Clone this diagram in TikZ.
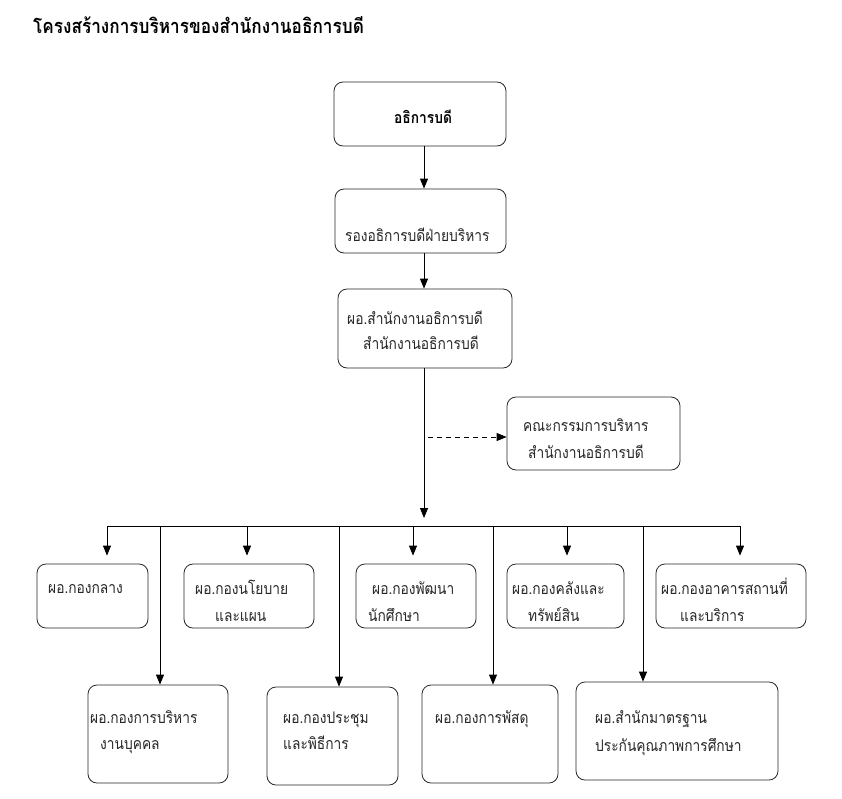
\documentclass[tikz,border=0pt]{standalone}
\usepackage{fontspec}
\newfontfamily\thaifont[Script=Thai,FakeStretch=0.86]{Loma}
\usetikzlibrary{arrows.meta}
\begin{document}
\begin{tikzpicture}[x=1pt,y=-1pt,
  box/.style={draw=black!85, line width=0.8pt, rounded corners=9pt, inner sep=0pt},
  txt/.style={font=\thaifont\fontsize{16}{18}\selectfont, inner sep=0pt, anchor=base west, text=black!85},
  ttl/.style={font=\thaifont\bfseries\fontsize{20}{22}\selectfont, inner sep=0pt, anchor=base west, text=black},
  arr/.style={line width=0.9pt, -{Triangle[length=10pt,width=8pt]}},
  ln/.style={line width=0.9pt}]
\useasboundingbox (0,0) rectangle (842,798);
% title
\node[ttl] (title) at (33,33) {โครงสร้างการบริหารของสำนักงานอธิการบดี};
% upper boxes
\node[box, minimum width=172pt, minimum height=64pt] (b1) at (420,114) {};
\node[box, minimum width=171pt, minimum height=64pt] (b2) at (420.5,221) {};
\node[box, minimum width=174pt, minimum height=79pt] (b3) at (425,328.5) {};
\node[box, minimum width=173pt, minimum height=73pt] (cm) at (593.5,433.5) {};
\node[ttl, font=\thaifont\bfseries\fontsize{16}{18}\selectfont] (b1t) at (394,123) {อธิการบดี};
\node[txt] (b2t) at (345,241) {รองอธิการบดีฝ่ายบริหาร};
\node[txt] (b3t1) at (347,324) {ผอ.สำนักงานอธิการบดี};
\node[txt] (b3t2) at (363,349) {สำนักงานอธิการบดี};
\node[txt] (cmt1) at (523,431) {คณะกรรมการบริหาร};
\node[txt] (cmt2) at (528,458) {สำนักงานอธิการบดี};
% top row boxes
\node[box, minimum width=111pt, minimum height=64pt] (t1) at (92.5,596) {};
\node[box, minimum width=130pt, minimum height=64pt] (t2) at (249,596) {};
\node[box, minimum width=120pt, minimum height=64pt] (t3) at (416,596) {};
\node[box, minimum width=117pt, minimum height=64pt] (t4) at (565.5,596) {};
\node[box, minimum width=150pt, minimum height=64pt] (t5) at (731,596) {};
\node[txt] (t1a) at (48,593) {ผอ.กองกลาง};
\node[txt] (t2a) at (195,594) {ผอ.กองนโยบาย};
\node[txt] (t2b) at (215,621) {และแผน};
\node[txt] (t3a) at (372,594) {ผอ.กองพัฒนา};
\node[txt] (t3b) at (368,621) {นักศึกษา};
\node[txt] (t4a) at (512,594) {ผอ.กองคลังและ};
\node[txt] (t4b) at (528,621) {ทรัพย์สิน};
\node[txt] (t5a) at (661,594) {ผอ.กองอาคารสถานที่};
\node[txt] (t5b) at (680,621) {และบริการ};
% bottom row boxes
\node[box, minimum width=140pt, minimum height=98pt] (p1) at (158,734) {};
\node[box, minimum width=131pt, minimum height=98pt] (p2) at (332.5,736) {};
\node[box, minimum width=136pt, minimum height=98pt] (p3) at (490,734) {};
\node[box, minimum width=202pt, minimum height=98pt] (p4) at (677,731) {};
\node[txt] (p1a) at (90,723) {ผอ.กองการบริหาร};
\node[txt] (p1b) at (100,749) {งานบุคคล};
\node[txt] (p2a) at (283,723) {ผอ.กองประชุม};
\node[txt] (p2b) at (283,749) {และพิธีการ};
\node[txt] (p3a) at (435,723) {ผอ.กองการพัสดุ};
\node[txt] (p4a) at (595,723) {ผอ.สำนักมาตรฐาน};
\node[txt] (p4b) at (595,751) {ประกันคุณภาพการศึกษา};
% connectors
\coordinate (sp) at (424,0);
\draw[arr] (b1.south -| sp) -- (b2.north -| sp);
\draw[arr] (b2.south -| sp) -- (b3.north -| sp);
\coordinate (spend) at (424,518);
\draw[arr] (b3.south -| sp) -- (spend);
\coordinate (ds) at (428,437);
\draw[arr, dashed, dash pattern=on 5pt off 4pt] (ds) -- (ds -| cm.west);
% bus
\coordinate (a1) at (107,526);
\coordinate (a2) at (247,526);
\coordinate (a3) at (413,526);
\coordinate (a4) at (567,526);
\coordinate (a5) at (740,526);
\coordinate (c1) at (160,526);
\coordinate (c2) at (339,526);
\coordinate (c3) at (493,526);
\coordinate (c4) at (643,526);
\draw[ln] (a1) -- (a5);
\draw[arr, shorten >=8pt] (a1) -- (a1 |- t1.north);
\draw[arr, shorten >=8pt] (a2) -- (a2 |- t2.north);
\draw[arr, shorten >=8pt] (a3) -- (a3 |- t3.north);
\draw[arr, shorten >=8pt] (a4) -- (a4 |- t4.north);
\draw[arr, shorten >=8pt] (a5) -- (a5 |- t5.north);
\draw[arr] (c1) -- (c1 |- p1.north);
\draw[arr] (c2) -- (c2 |- p2.north);
\draw[arr] (c3) -- (c3 |- p3.north);
\draw[arr] (c4) -- (c4 |- p4.north);
\end{tikzpicture}
\end{document}
